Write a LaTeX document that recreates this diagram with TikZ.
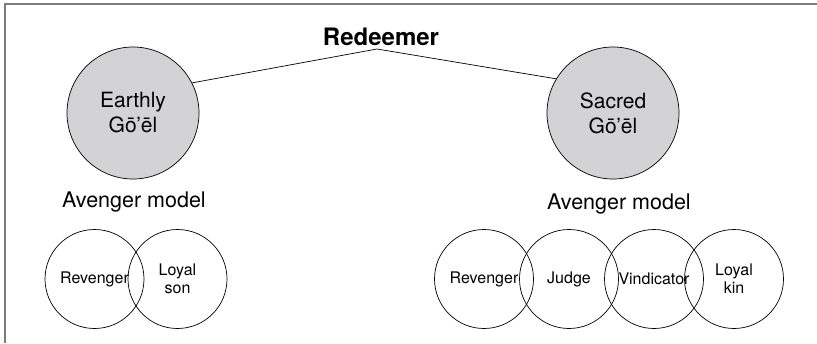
\documentclass[tikz,border=0pt]{standalone}
\usepackage{fontspec}
\setmainfont{TeX Gyre Heros}
\usetikzlibrary{positioning}
\definecolor{goelgray}{RGB}{211,211,213}
\definecolor{framegray}{RGB}{125,125,125}
\tikzset{
  goel/.style={circle, draw, fill=goelgray, line width=0.7pt, minimum size=132pt,
    inner sep=0pt, align=center, font=\fontsize{21}{25}\selectfont},
  role/.style={circle, draw, line width=0.7pt, minimum size=99pt,
    inner sep=0pt, align=center, font=\fontsize{16}{18}\selectfont},
  model/.style={font=\fontsize{21.5}{25}\selectfont},
}
\begin{document}
\begin{tikzpicture}[x=1pt, y=-1pt]
  \useasboundingbox (0,0) rectangle (817,343);
  % frame, only left and top
  \draw[framegray, line width=1.5pt] (5,343) -- (5,4) -- (817,4);

  \node [font=\bfseries\fontsize{24}{28}\selectfont](redeemer) at (381,37) {Redeemer};
  \coordinate (top) at (377,49);

  \node [goel](earthly) at (133,113) {Earthly\\Gō’ēl};
  \node [goel](sacred) at (613,113) {Sacred\\Gō’ēl};

  \draw [line width=0.7pt] (earthly.27) -- (top) -- (sacred.149);

  \node [model](lmodel) at (134,202) {Avenger model};
  \node [model](rmodel) at (619,204) {Avenger model};

  % left roles
  \node [role](lrev) at (94.5,279) {Revenger};
  \node [role](lson) at (177.5,279) {Loyal\\son};

  % right roles
  \node [role](rrev) at (484,279) {Revenger};
  \node [role](judge) at (569,279) {Judge};
  \node [role](vind) at (654,279) {Vindicator};
  \node [role](kin) at (734,279) {Loyal\\kin};
\end{tikzpicture}
\end{document}
